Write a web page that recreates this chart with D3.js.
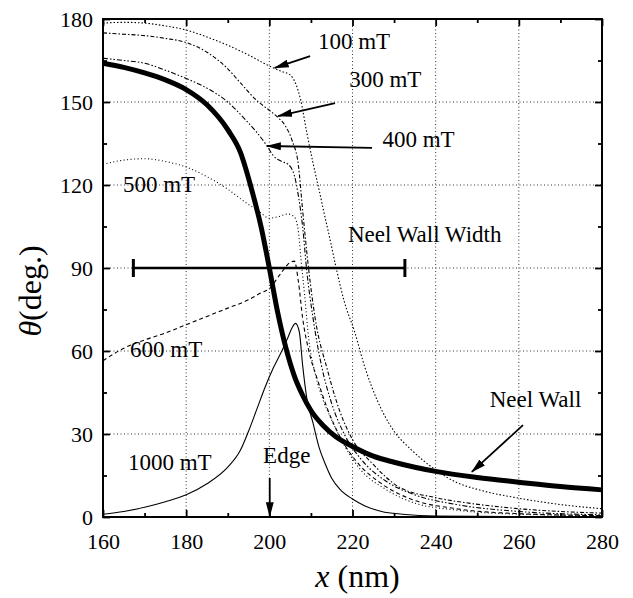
<!DOCTYPE html>
<html>
<head>
<meta charset="utf-8">
<script src="https://cdn.jsdelivr.net/npm/d3@7"></script>
<style>
  body { margin: 0; background: #fff; }
  svg text { font-family: "Liberation Serif", "Times New Roman", serif; fill: #000; }
</style>
</head>
<body>
<div id="chart"></div>
<script>
// Neel wall profile (thick)
const neelX = [160, 165, 170, 175, 180, 185, 190, 193, 196, 198, 200, 202, 204, 206, 208, 210, 213, 216, 220, 225, 230, 235, 240, 250, 260, 270, 280];
const neelY = [164, 162.5, 160.5, 158, 154.5, 149, 140, 132, 117, 105, 90, 74, 61, 51, 44, 38.5, 33, 29, 25.5, 22, 19.8, 18, 16.5, 14.3, 12.6, 11, 9.8];

// field curves
const x100 = [160, 165, 170, 175, 180, 185, 190, 195, 200, 203, 205, 206.5, 207.5, 209, 210.5, 212, 213, 214.5, 216, 218, 220.5, 223, 226, 230, 234, 240, 245, 250, 260, 270, 280];
const y100 = [178.5, 178.8, 178.5, 177.5, 176, 173.5, 170.5, 167, 163, 161, 159.8, 156, 151, 139, 128, 118, 111, 101, 90.5, 78, 67, 54, 42, 31, 24.5, 17, 12.5, 10, 6.8, 4.5, 3];

const x300 = [160, 165, 170, 175, 180, 185, 190, 193, 197, 200, 202, 204, 205.5, 207, 208, 209.5, 211, 214, 217, 220, 225, 231, 240, 248, 260, 280];
const y300 = [175, 174.5, 174, 173, 171.5, 168, 162, 157, 150.5, 147, 144.5, 141, 136, 127, 111, 89, 72, 53, 38, 28, 19, 11, 7, 5, 3, 1.4];

const x400 = [160, 165, 170, 175, 180, 185, 190, 194, 197, 199.5, 201, 203, 204.5, 206, 207, 208, 209, 210.5, 212.5, 215, 218, 222, 228, 235, 245, 260, 280];
const y400 = [165.8, 165, 164, 161.5, 158.5, 155, 150, 144, 139, 134, 130.5, 128.5, 127.5, 123.5, 116, 105, 89, 72, 55, 41, 30, 21, 13, 8, 4.5, 2, 0.8];

const x500 = [160, 165, 170, 175, 180, 185, 190, 194, 197.5, 200, 202, 204.5, 206, 207, 207.5, 208.5, 209.5, 211, 213, 215, 218, 222, 228, 235, 245, 260, 280];
const y500 = [127.5, 129, 129.5, 128.5, 126.5, 123, 118.5, 114, 110.5, 108, 108.5, 109.5, 108.5, 103, 95, 80, 64, 52, 42, 35, 26, 17, 10, 5, 2.5, 1, 0.5];

const x600 = [160, 165, 170, 175, 180, 185, 190, 195, 198, 200, 202.5, 205, 206, 207, 208, 209.5, 211.5, 214, 217, 221, 227, 234, 245, 260, 280];
const y600 = [56.5, 61, 64, 66.5, 69.5, 72.5, 75.5, 78.5, 81, 82.5, 87.5, 92, 92.5, 85, 72, 60, 50, 39, 29, 20, 12, 6.5, 3, 1.2, 0.5];

const x1000 = [160, 165, 170, 175, 180, 185, 190, 193, 195, 197, 199, 201, 203, 204.5, 205.5, 206.3, 207.2, 208, 209, 210.5, 212, 213.5, 215, 217, 220, 223, 227, 232, 240, 280];
const y1000 = [1, 2, 3.5, 5.5, 8, 12, 18, 24, 31, 39, 47, 54, 60, 65, 68.5, 70, 67, 55, 43, 34, 25, 19, 14, 10, 6.5, 4, 2, 1, 0.3, 0];

const seriesNames = ["100 mT", "300 mT", "400 mT", "500 mT", "600 mT", "1000 mT"];
const seriesX = [x100, x300, x400, x500, x600, x1000];
const seriesY = [y100, y300, y400, y500, y600, y1000];
const seriesDash = ["1.5,2", "4,2,1.5,2", "5,2,1.5,2,1.5,2", "1,2.5", "4,3", null];

// text labels [text, x, y]
const labels = [
  ["100 mT", 211.7, 169.1],
  ["300 mT", 219.2, 155.4],
  ["400 mT", 227.2, 133.7],
  ["500 mT", 164.8, 117.4],
  ["600 mT", 166.5, 57.8],
  ["1000 mT", 166, 16.9],
  ["Edge", 198.5, 19.5],
  ["Neel Wall Width", 218.9, 99.4],
  ["Neel Wall", 253, 39.8]
];
// arrows [x1, y1, x2 (tip), y2 (tip)]
const arrows = [
  [209.8, 166.6, 201.3, 162.3],
  [215.8, 149.6, 202.1, 144.9],
  [224.7, 133.4, 199.4, 134.1],
  [200.1, 14.1, 200.1, 0.3],
  [261, 33.2, 248.7, 16.3]
];
const wallWidth = [167.3, 232.6, 90];

const xTicks = [160, 180, 200, 220, 240, 260, 280];
const yTicks = [0, 30, 60, 90, 120, 150, 180];

const margin = { top: 19, right: 31, bottom: 81, left: 103 },
    width = 633 - margin.left - margin.right,
    height = 598 - margin.top - margin.bottom;

const svgRoot = d3.select("#chart")
    .append("svg")
    .attr("width", 633)
    .attr("height", 598);

svgRoot.append("defs").append("marker")
    .attr("id", "head")
    .attr("markerUnits", "userSpaceOnUse")
    .attr("viewBox", "0 0 15 8")
    .attr("refX", 14)
    .attr("refY", 4)
    .attr("markerWidth", 15)
    .attr("markerHeight", 8)
    .attr("orient", "auto")
    .append("path")
    .attr("d", "M0,0 L15,4 L0,8 Z")
    .attr("fill", "#000");

const svg = svgRoot.append("g")
    .attr("transform", `translate(${margin.left},${margin.top})`);

const x = d3.scaleLinear().domain([160, 280]).range([0, width]);
const y = d3.scaleLinear().domain([0, 180]).range([height, 0]);

// grid
svg.append("g")
    .selectAll("line")
    .data(xTicks.slice(1, -1))
    .enter().append("line")
    .attr("x1", d => x(d)).attr("x2", d => x(d))
    .attr("y1", 0).attr("y2", height)
    .attr("stroke", "#333").attr("stroke-width", 1).attr("stroke-dasharray", "1,2.5");

svg.append("g")
    .selectAll("line")
    .data(yTicks.slice(1, -1))
    .enter().append("line")
    .attr("x1", 0).attr("x2", width)
    .attr("y1", d => y(d)).attr("y2", d => y(d))
    .attr("stroke", "#333").attr("stroke-width", 1).attr("stroke-dasharray", "1,2.5");

// curves
const line = d3.line()
    .x(d => x(d[0]))
    .y(d => y(d[1]))
    .curve(d3.curveMonotoneX);

seriesNames.forEach((name, i) => {
    const pts = seriesX[i].map((v, j) => [v, seriesY[i][j]]);
    svg.append("path")
        .datum(pts)
        .attr("d", line)
        .attr("fill", "none")
        .attr("stroke", "#000")
        .attr("stroke-width", 1.1)
        .attr("stroke-dasharray", seriesDash[i]);
});

svg.append("path")
    .datum(neelX.map((v, j) => [v, neelY[j]]))
    .attr("d", line)
    .attr("fill", "none")
    .attr("stroke", "#000")
    .attr("stroke-width", 5);

// wall width bar
svg.append("line")
    .attr("x1", x(wallWidth[0])).attr("x2", x(wallWidth[1]))
    .attr("y1", y(wallWidth[2])).attr("y2", y(wallWidth[2]))
    .attr("stroke", "#000").attr("stroke-width", 2.5);
[wallWidth[0], wallWidth[1]].forEach(v => {
    svg.append("line")
        .attr("x1", x(v)).attr("x2", x(v))
        .attr("y1", y(wallWidth[2]) - 9).attr("y2", y(wallWidth[2]) + 9)
        .attr("stroke", "#000").attr("stroke-width", 3);
});

// arrows
svg.selectAll(".arrow")
    .data(arrows)
    .enter().append("line")
    .attr("class", "arrow")
    .attr("x1", d => x(d[0])).attr("y1", d => y(d[1]))
    .attr("x2", d => x(d[2])).attr("y2", d => y(d[3]))
    .attr("stroke", "#000").attr("stroke-width", 1.8)
    .attr("marker-end", "url(#head)");

// labels
svg.selectAll(".lab")
    .data(labels)
    .enter().append("text")
    .attr("class", "lab")
    .attr("x", d => x(d[1]))
    .attr("y", d => y(d[2]))
    .attr("font-size", 23)
    .text(d => d[0]);

// axes, ticks inward
svg.append("g").attr("transform", `translate(0,${height})`)
    .call(d3.axisBottom(x).tickValues(xTicks).tickSize(-7).tickPadding(16).tickFormat(d3.format("d")));
svg.append("g").attr("transform", `translate(0,${height})`)
    .call(d3.axisBottom(x).tickValues(d3.range(170, 280, 20)).tickSize(-4).tickFormat(""));
svg.append("g")
    .call(d3.axisTop(x).tickValues(xTicks).tickSize(-7).tickFormat(""));
svg.append("g")
    .call(d3.axisTop(x).tickValues(d3.range(170, 280, 20)).tickSize(-4).tickFormat(""));

svg.append("g")
    .call(d3.axisLeft(y).tickValues(yTicks).tickSize(-7).tickPadding(10).tickFormat(d3.format("d")));
svg.append("g")
    .call(d3.axisLeft(y).tickValues(d3.range(15, 180, 30)).tickSize(-4).tickFormat(""));
svg.append("g").attr("transform", `translate(${width},0)`)
    .call(d3.axisRight(y).tickValues(yTicks).tickSize(-7).tickFormat(""));
svg.append("g").attr("transform", `translate(${width},0)`)
    .call(d3.axisRight(y).tickValues(d3.range(15, 180, 30)).tickSize(-4).tickFormat(""));

svg.selectAll(".domain").remove();
svg.selectAll(".tick line").attr("stroke", "#000").attr("stroke-width", 1.8);
svg.selectAll(".tick text")
    .attr("font-size", 22)
    .attr("font-family", "\"Liberation Serif\", \"Times New Roman\", serif")
    .attr("fill", "#000");

// frame
svg.append("rect")
    .attr("width", width).attr("height", height)
    .attr("fill", "none").attr("stroke", "#000").attr("stroke-width", 2);

// axis titles
const xt = svg.append("text")
    .attr("x", width / 2 + 5)
    .attr("y", height + 70)
    .attr("text-anchor", "middle")
    .attr("font-size", 32);
xt.append("tspan").attr("font-style", "italic").text("x");
xt.append("tspan").text(" (nm)");

const yt = svg.append("text")
    .attr("transform", `translate(${-62},${y(90) + 23}) rotate(-90)`)
    .attr("text-anchor", "middle")
    .attr("font-size", 32);
yt.append("tspan").attr("font-style", "italic").text("θ");
yt.append("tspan").text("(deg.)");
</script>
</body>
</html>
